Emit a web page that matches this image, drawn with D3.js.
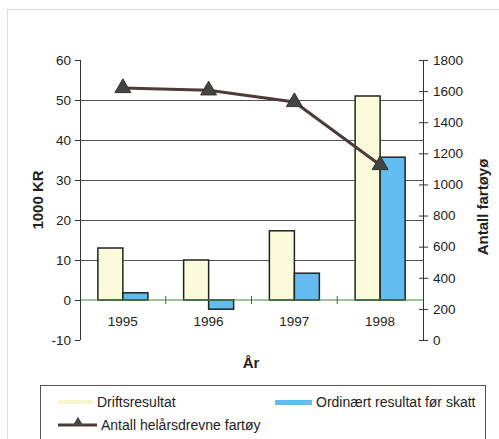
<!DOCTYPE html>
<html>
<head>
<meta charset="utf-8">
<script src="https://cdn.jsdelivr.net/npm/d3@7/dist/d3.min.js"></script>
<style>
  body { margin: 0; background: #fff; }
  svg { display: block; font-family: "Liberation Sans", Arial, sans-serif; }
</style>
</head>
<body>
<div id="graph"></div>
<script>
const years = ['1995', '1996', '1997', '1998'];
const drift = [13, 10, 17.3, 51];
const ordinaert = [1.8, -2.3, 6.7, 35.7];
const fartoy = [1620, 1605, 1530, 1125];
const leftTicks = [-10, 0, 10, 20, 30, 40, 50, 60];
const rightTicks = [0, 200, 400, 600, 800, 1000, 1200, 1400, 1600, 1800];

const w = 499, h = 439;
const plotL = 80, plotR = 423, plotT = 60, plotB = 340;

const svg = d3.select('#graph').append('svg').attr('width', w).attr('height', h);

// faint outer frame
svg.append('rect').attr('x', 7.5).attr('y', 9.5).attr('width', 500).attr('height', 440)
  .attr('fill', 'none').attr('stroke', '#ddd');

const x = d3.scaleBand().domain(years).range([plotL, plotR]);
const y = d3.scaleLinear().domain([-10, 60]).range([plotB, plotT]);
const y2 = d3.scaleLinear().domain([0, 1800]).range([plotB, plotT]);
const bw = 25;

// gridlines
svg.append('g').selectAll('line').data([10, 20, 30, 40, 50]).enter().append('line')
  .attr('x1', plotL).attr('x2', plotR)
  .attr('y1', d => Math.round(y(d)) + 0.5).attr('y2', d => Math.round(y(d)) + 0.5)
  .attr('stroke', '#555').attr('stroke-width', 1);

// bars
svg.append('g').selectAll('rect').data(drift).enter().append('rect')
  .attr('x', (d, i) => x(years[i]) + x.bandwidth() / 2 - bw)
  .attr('y', d => y(Math.max(0, d)))
  .attr('width', bw)
  .attr('height', d => Math.abs(y(d) - y(0)))
  .attr('fill', '#fbfbdc').attr('stroke', '#222').attr('stroke-width', 1.5);

svg.append('g').selectAll('rect').data(ordinaert).enter().append('rect')
  .attr('x', (d, i) => x(years[i]) + x.bandwidth() / 2)
  .attr('y', d => y(Math.max(0, d)))
  .attr('width', bw)
  .attr('height', d => Math.abs(y(d) - y(0)))
  .attr('fill', '#62bcef').attr('stroke', '#222').attr('stroke-width', 1.5);

// zero baseline with category ticks
svg.append('line').attr('x1', plotL).attr('x2', plotR)
  .attr('y1', y(0)).attr('y2', y(0)).attr('stroke', '#3c8a3c').attr('stroke-width', 1);
svg.append('g').selectAll('line').data(years.slice(1)).enter().append('line')
  .attr('x1', d => x(d)).attr('x2', d => x(d))
  .attr('y1', y(0) - 4).attr('y2', y(0) + 4).attr('stroke', '#555');
svg.append('g').selectAll('text').data(years).enter().append('text')
  .attr('x', d => x(d) + x.bandwidth() / 2).attr('y', y(0) + 26)
  .attr('text-anchor', 'middle').attr('font-size', 13.5).attr('fill', '#222').text(d => d);

// left axis
const yAxis = d3.axisLeft(y).tickValues(leftTicks).tickSize(5).tickPadding(4)
  .tickFormat(d => String(d));
const gl = svg.append('g').attr('transform', 'translate(' + plotL + ',0)').call(yAxis);
gl.select('.domain').attr('stroke', '#333').attr('d', 'M0.5,' + plotT + 'V' + plotB);
gl.selectAll('text').attr('font-size', 13.5).attr('fill', '#222').attr('font-family', 'Liberation Sans, Arial, sans-serif');
gl.selectAll('line').attr('stroke', '#333');

// right axis
const yAxis2 = d3.axisRight(y2).tickValues(rightTicks).tickSize(5).tickPadding(5)
  .tickFormat(d => String(d));
const gr = svg.append('g').attr('transform', 'translate(' + plotR + ',0)').call(yAxis2);
gr.select('.domain').attr('stroke', '#333').attr('d', 'M0.5,' + plotT + 'V' + plotB);
gr.selectAll('.tick line').attr('x1', -4).attr('stroke', '#333');
gr.selectAll('text').attr('font-size', 13.5).attr('fill', '#222').attr('font-family', 'Liberation Sans, Arial, sans-serif');

// line series
const line = d3.line().x((d, i) => x(years[i]) + x.bandwidth() / 2).y(d => y2(d));
svg.append('path').datum(fartoy).attr('d', line)
  .attr('fill', 'none').attr('stroke', '#4d3b3b').attr('stroke-width', 3);
const tri = d3.symbol().type(d3.symbolTriangle).size(110);
svg.append('g').selectAll('path').data(fartoy).enter().append('path')
  .attr('d', tri)
  .attr('transform', (d, i) => 'translate(' + (x(years[i]) + x.bandwidth() / 2) + ',' + y2(d) + ')')
  .attr('fill', '#444').attr('stroke', '#333');

// axis titles
svg.append('text').attr('transform', 'translate(43,' + 200 + ') rotate(-90)')
  .attr('text-anchor', 'middle').attr('font-size', 15).attr('font-weight', 'bold')
  .attr('fill', '#222').text('1000 KR');
svg.append('text').attr('transform', 'translate(488,' + 207 + ') rotate(-90)')
  .attr('text-anchor', 'middle').attr('font-size', 15).attr('font-weight', 'bold')
  .attr('fill', '#222').text('Antall fartøyø');
svg.append('text').attr('x', 251).attr('y', 368).attr('text-anchor', 'middle')
  .attr('font-size', 15).attr('font-weight', 'bold').attr('fill', '#222').text('År');

// legend
const lg = svg.append('g');
lg.append('rect').attr('x', 40.5).attr('y', 385.5).attr('width', 445).attr('height', 60)
  .attr('fill', '#fff').attr('stroke', '#555');
lg.append('rect').attr('x', 58).attr('y', 400).attr('width', 35).attr('height', 4).attr('fill', '#f8f6cc');
lg.append('text').attr('x', 97).attr('y', 407).attr('font-size', 14).attr('fill', '#222').text('Driftsresultat');
lg.append('rect').attr('x', 275).attr('y', 400).attr('width', 37).attr('height', 5).attr('fill', '#62bcef');
lg.append('text').attr('x', 316).attr('y', 407).attr('font-size', 14).attr('fill', '#222').text('Ordinært resultat før skatt');
lg.append('line').attr('x1', 58).attr('x2', 97).attr('y1', 425).attr('y2', 425)
  .attr('stroke', '#4d3b3b').attr('stroke-width', 3);
lg.append('path').attr('d', d3.symbol().type(d3.symbolTriangle).size(50))
  .attr('transform', 'translate(78,423)').attr('fill', '#444');
lg.append('text').attr('x', 101).attr('y', 430).attr('font-size', 14).attr('fill', '#222').text('Antall helårsdrevne fartøy');
</script>
</body>
</html>
